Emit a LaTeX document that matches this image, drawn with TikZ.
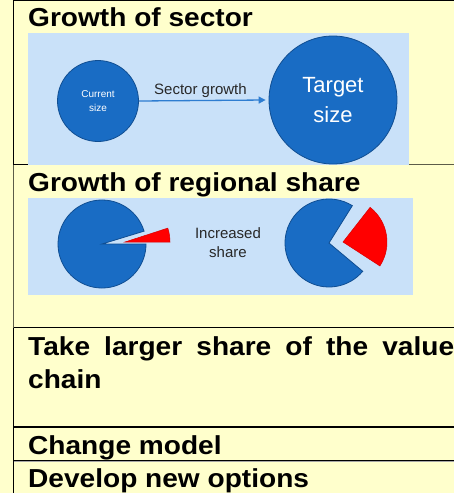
\documentclass[tikz,border=0pt]{standalone}
\usepackage{fontspec}
\setmainfont{Liberation Sans}
\newfontfamily\hfont[FakeStretch=1.08]{Liberation Sans}
\usetikzlibrary{arrows.meta}
\definecolor{bgyellow}{RGB}{255,255,204}
\definecolor{imgblue}{RGB}{201,225,249}
\definecolor{circblue}{RGB}{25,108,196}
\definecolor{circedge}{RGB}{16,78,146}
\definecolor{arrblue}{RGB}{46,125,209}
\definecolor{rulegray}{RGB}{92,92,72}
\definecolor{txtgray}{RGB}{40,40,40}
\tikzset{
  title/.style={anchor=base west,inner sep=0pt,font=\hfont\bfseries\fontsize{26}{33}\selectfont},
  bigcirc/.style={circle,fill=circblue,draw=circedge,line width=0.8pt,text=white,align=center,inner sep=0pt},
  pieblue/.style={fill=circblue,draw=circedge,line width=0.8pt},
  piered/.style={fill=red,draw=red!85!black,line width=0.5pt},
  imgbox/.style={fill=imgblue},
  rule/.style={line width=1.4pt},
}
\begin{document}
\begin{tikzpicture}[x=1pt,y=-1pt]
\useasboundingbox (0,0) rectangle (454,493);
\fill[bgyellow] (0,0) rectangle (454,493);
% pictures
\fill[imgbox] (28,33) rectangle (409,164.5);
\fill[imgbox] (28,198) rectangle (413,295);
% rules
\draw[rule] (13.5,0.7) -- (454,0.7);
\draw[rule] (13.5,0) -- (13.5,164.5);
\draw[rule,rulegray] (13.5,164.5) -- (13.5,327.5);
\draw[rule] (13.5,327.5) -- (13.5,493);
\draw[line width=1.2pt] (13.5,164.5) -- (28,164.5);
\draw[line width=1.2pt,rulegray] (409,164.5) -- (454,164.5);
\draw[rule] (13.5,327.5) -- (454,327.5);
\draw[line width=2pt] (13.5,426.8) -- (454,426.8);
\draw[line width=1.1pt] (13.5,460.5) -- (454,460.5);
\draw[line width=0.6pt,black!35] (13.5,461.6) -- (454,461.6);
% titles
\node[title] (t1) at (28,26) {Growth of sector};
\node[title] (t2) at (28,191) {Growth of regional share};
\node[title] (t3) at (28,355) {\makebox[426pt][s]{Take larger share of the value}};
\node[title] (t3b) at (28,388) {chain};
\node[title] (t4) at (28,454) {Change model};
\node[title] (t5) at (28,487) {Develop new options};
% growth of sector
\node[bigcirc,minimum size=81pt,font=\fontsize{10}{14}\selectfont] (cur) at (98,101) {Current\\size};
\node[bigcirc,minimum size=128pt,font=\fontsize{22}{30}\selectfont] (tgt) at (333,100) {Target\\size};
\draw[arrblue,line width=1.3pt,-{Triangle[length=7pt,width=7pt]}] (cur.east) -- ([xshift=-3pt]tgt.west);
\node[anchor=base,inner sep=0pt,text=txtgray,font=\fontsize{15}{18}\selectfont] (sg) at (200.5,94) {Sector growth};
% regional share
\begin{scope}[shift={(102,244)},yscale=-1]
  \filldraw[pieblue] (0,0) -- (17:44) arc[start angle=17,end angle=360,radius=44] -- cycle;
\end{scope}
\begin{scope}[shift={(125,242)},yscale=-1]
  \filldraw[piered] (0,0) -- (0:45) arc[start angle=0,end angle=18,radius=45] -- cycle;
\end{scope}
\begin{scope}[shift={(329,243)},yscale=-1]
  \filldraw[pieblue] (0,0) -- (58:44) arc[start angle=58,end angle=320,radius=44] -- cycle;
\end{scope}
\begin{scope}[shift={(343,242)},yscale=-1]
  \filldraw[piered] (0,0) -- (-33:44) arc[start angle=-33,end angle=52,radius=44] -- cycle;
\end{scope}
\node[align=center,inner sep=0pt,text=txtgray,font=\fontsize{15}{19}\selectfont] (inc) at (228,243) {Increased\\share};
\end{tikzpicture}
\end{document}
